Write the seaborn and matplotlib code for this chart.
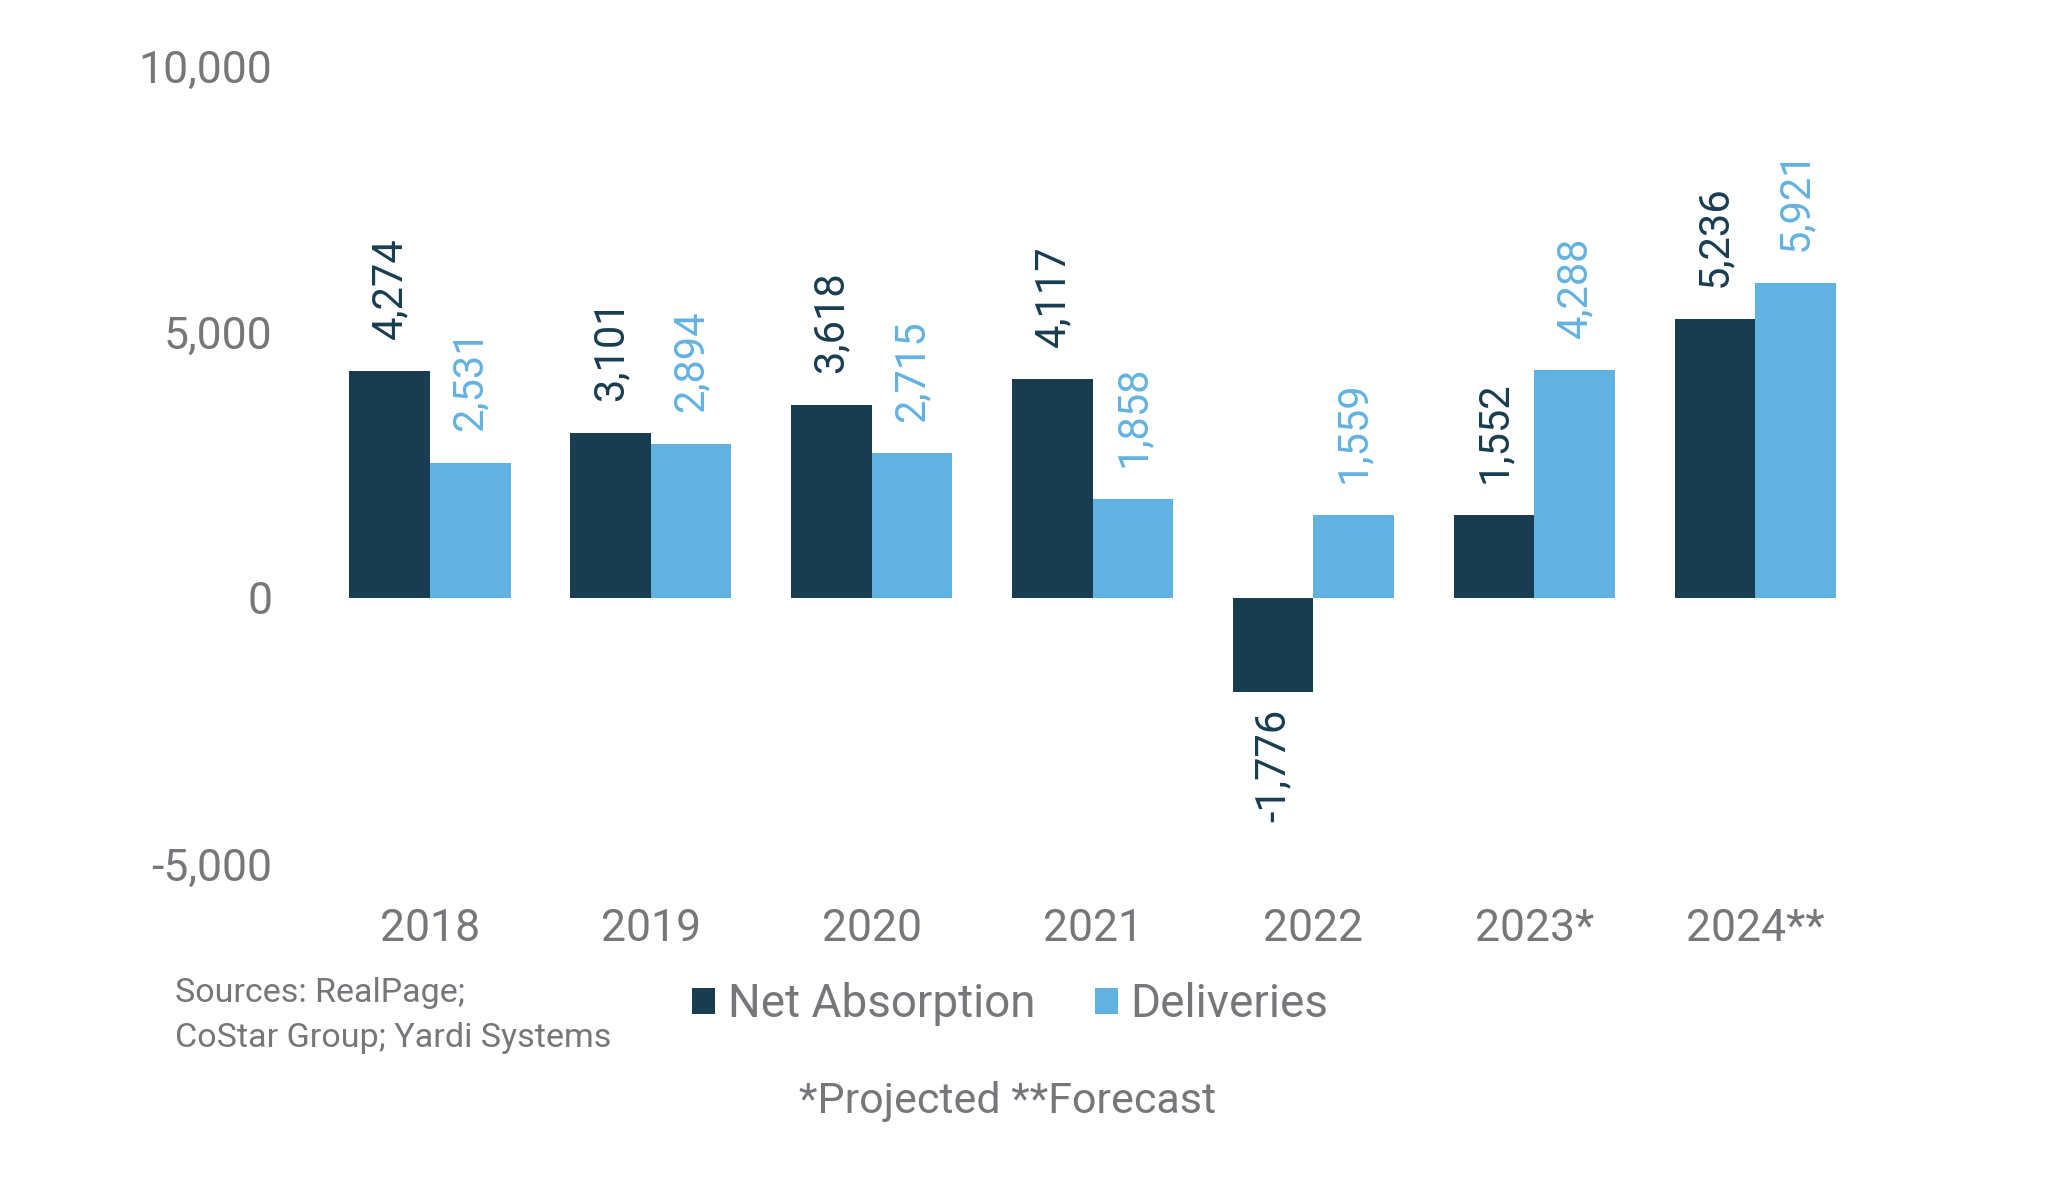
import matplotlib
matplotlib.use("Agg")
import numpy as np
import pandas as pd
import matplotlib.pyplot as plt
import matplotlib.ticker as mticker
import seaborn as sns


# Data
years = ["2018", "2019", "2020", "2021", "2022", "2023*", "2024**"]
net_absorption = [4274, 3101, 3618, 4117, -1776, 1552, 5236]
deliveries = [2531, 2894, 2715, 1858, 1559, 4288, 5921]
series_names = ["Net Absorption", "Deliveries"]

DARK = "#183C50"
LIGHT = "#62B2E1"
GRAY = "#76777A"

df = pd.DataFrame({
    "year": years * 2,
    "value": net_absorption + deliveries,
    "series": [series_names[0]] * len(years) + [series_names[1]] * len(years),
})


sns.set_style("white")
plt.rcParams["font.family"] = ["Roboto", "DejaVu Sans"]

fig = plt.figure(figsize=(20.48, 11.77), dpi=100)
ax = fig.add_axes([0.156, 0.266, 0.755, 0.678])

sns.barplot(
    data=df,
    x="year",
    y="value",
    hue="series",
    palette=[DARK, LIGHT],
    width=0.73,
    saturation=1,
    linewidth=0,
    edgecolor="none",
    ax=ax,
)

handles, labels = ax.get_legend_handles_labels()
ax.get_legend().remove()

# Value labels
for container, color in zip(ax.containers, [DARK, LIGHT]):
    for bar in container:
        v = bar.get_height()
        x = bar.get_x() + bar.get_width() / 2
        if v >= 0:
            ax.annotate(f"{v:,.0f}", (x, v), xytext=(0, 23),
                        textcoords="offset points", rotation=90,
                        ha="center", va="bottom", fontsize=30, color=color)
        else:
            ax.annotate(f"{v:,.0f}", (x, v), xytext=(0, -12),
                        textcoords="offset points", rotation=90,
                        ha="center", va="top", fontsize=30, color=color)

ax.set_ylim(-5000, 10000)
ax.set_yticks([-5000, 0, 5000, 10000])
ax.yaxis.set_major_formatter(mticker.FuncFormatter(lambda x, p: f"{x:,.0f}"))
ax.set_xlim(-0.5, len(years) - 0.5)

ax.set_xlabel("")
ax.set_ylabel("")
ax.tick_params(axis="y", length=0, pad=34, labelsize=32, labelcolor=GRAY)
ax.tick_params(axis="x", length=0, pad=32, labelsize=32, labelcolor=GRAY)
sns.despine(ax=ax, left=True, bottom=True)

# Legend
fig.legend(
    handles, labels,
    loc="center left",
    bbox_to_anchor=(692 / 2048, 1 - 1004 / 1177),
    ncol=2,
    frameon=False,
    fontsize=33,
    labelcolor=GRAY,
    handlelength=0.5,
    handleheight=0.5,
    handletextpad=0.28,
    columnspacing=1.3,
    borderpad=0,
    borderaxespad=0,
)

# Notes
fig.text(175 / 2048, 1 - 993 / 1177, "Sources: RealPage;", fontsize=24.5,
         color=GRAY, ha="left", va="center")
fig.text(175 / 2048, 1 - 1038 / 1177, "CoStar Group; Yardi Systems", fontsize=24.5,
         color=GRAY, ha="left", va="center")
fig.text(1008 / 2048, 1 - 1101 / 1177, "*Projected **Forecast", fontsize=31,
         color=GRAY, ha="center", va="center")

plt.savefig("out.png", dpi=100)
